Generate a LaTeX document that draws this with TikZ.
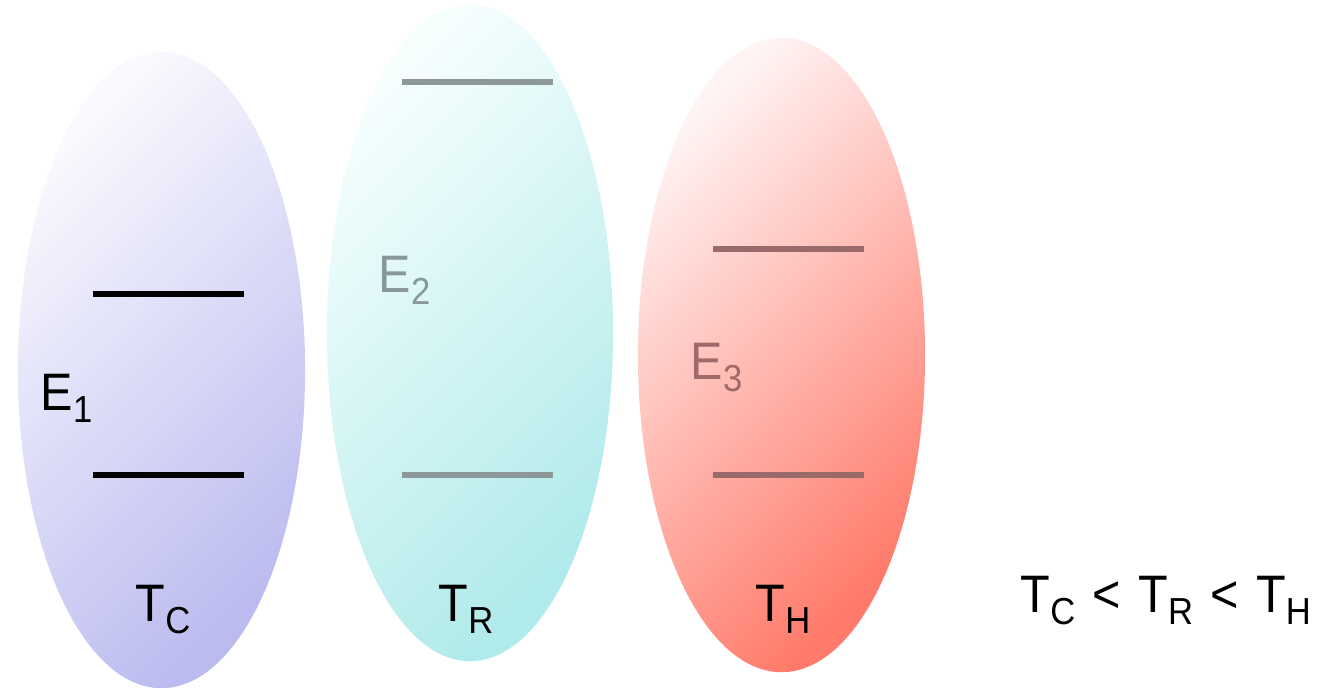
\documentclass[tikz,border=0pt]{standalone}
\usepackage{fontspec}
\setmainfont{Liberation Sans}[FakeStretch=0.92]
\newcommand{\sbs}[2]{#1\raisebox{-3.4pt}{\fontsize{10.7}{12}\selectfont #2}}
\definecolor{bluelight}{HTML}{F9F9FE}
\definecolor{bluedark}{HTML}{BBBBF0}
\definecolor{cyanlight}{HTML}{F6FEFE}
\definecolor{cyandark}{HTML}{B0EAEA}
\definecolor{redlight}{HTML}{FFF3F3}
\definecolor{reddark}{HTML}{FF7A6A}
\definecolor{cyanline}{HTML}{8C9898}
\definecolor{redline}{HTML}{9A6A6A}
\definecolor{etwo}{HTML}{889898}
\definecolor{ethree}{HTML}{A06A6A}
\begin{document}
\begin{tikzpicture}[x=0.01cm,y=-0.01cm,
  lbl/.style={inner sep=0pt, font=\fontsize{15}{18}\selectfont},
  level/.style={line width=1.7pt}]
\useasboundingbox (0,0) rectangle (1326,688);
\shade[top color=bluelight, bottom color=bluedark, shading angle=45]
  (161.5,370) ellipse [x radius=1.435cm, y radius=3.18cm];
\shade[top color=cyanlight, bottom color=cyandark, shading angle=45]
  (470,333) ellipse [x radius=1.43cm, y radius=3.28cm];
\shade[top color=redlight, bottom color=reddark, shading angle=45]
  (781.5,355) ellipse [x radius=1.435cm, y radius=3.17cm];
% levels
\coordinate (b1l) at (93,294); \coordinate (b1r) at (244,294);
\coordinate (b2l) at (93,475); \coordinate (b2r) at (244,475);
\coordinate (c1l) at (402,82); \coordinate (c1r) at (553,82);
\coordinate (c2l) at (402,475); \coordinate (c2r) at (553,475);
\coordinate (r1l) at (713,249); \coordinate (r1r) at (864,249);
\coordinate (r2l) at (713,475); \coordinate (r2r) at (864,475);
\draw[level, black] (b1l) -- (b1r);
\draw[level, black] (b2l) -- (b2r);
\draw[level, cyanline] (c1l) -- (c1r);
\draw[level, cyanline] (c2l) -- (c2r);
\draw[level, redline] (r1l) -- (r1r);
\draw[level, redline] (r2l) -- (r2r);
% labels
\node[lbl, anchor=base west] (e1) at (40,411) {\sbs{E}{1}};
\node[lbl, anchor=base west, text=etwo] (e2) at (378,293) {\sbs{E}{2}};
\node[lbl, anchor=base west, text=ethree] (e3) at (690,380) {\sbs{E}{3}};
\node[lbl, anchor=base west] (tc) at (135,622) {\sbs{T}{C}};
\node[lbl, anchor=base west] (tr) at (438,622) {\sbs{T}{R}};
\node[lbl, anchor=base west] (th) at (755,622) {\sbs{T}{H}};
\node[lbl, anchor=base west] (rel) at (1020,613) {\sbs{T}{C}\hspace{0.33em}<\hspace{0.33em}\sbs{T}{R}\hspace{0.33em}<\hspace{0.33em}\sbs{T}{H}};
\end{tikzpicture}
\end{document}
